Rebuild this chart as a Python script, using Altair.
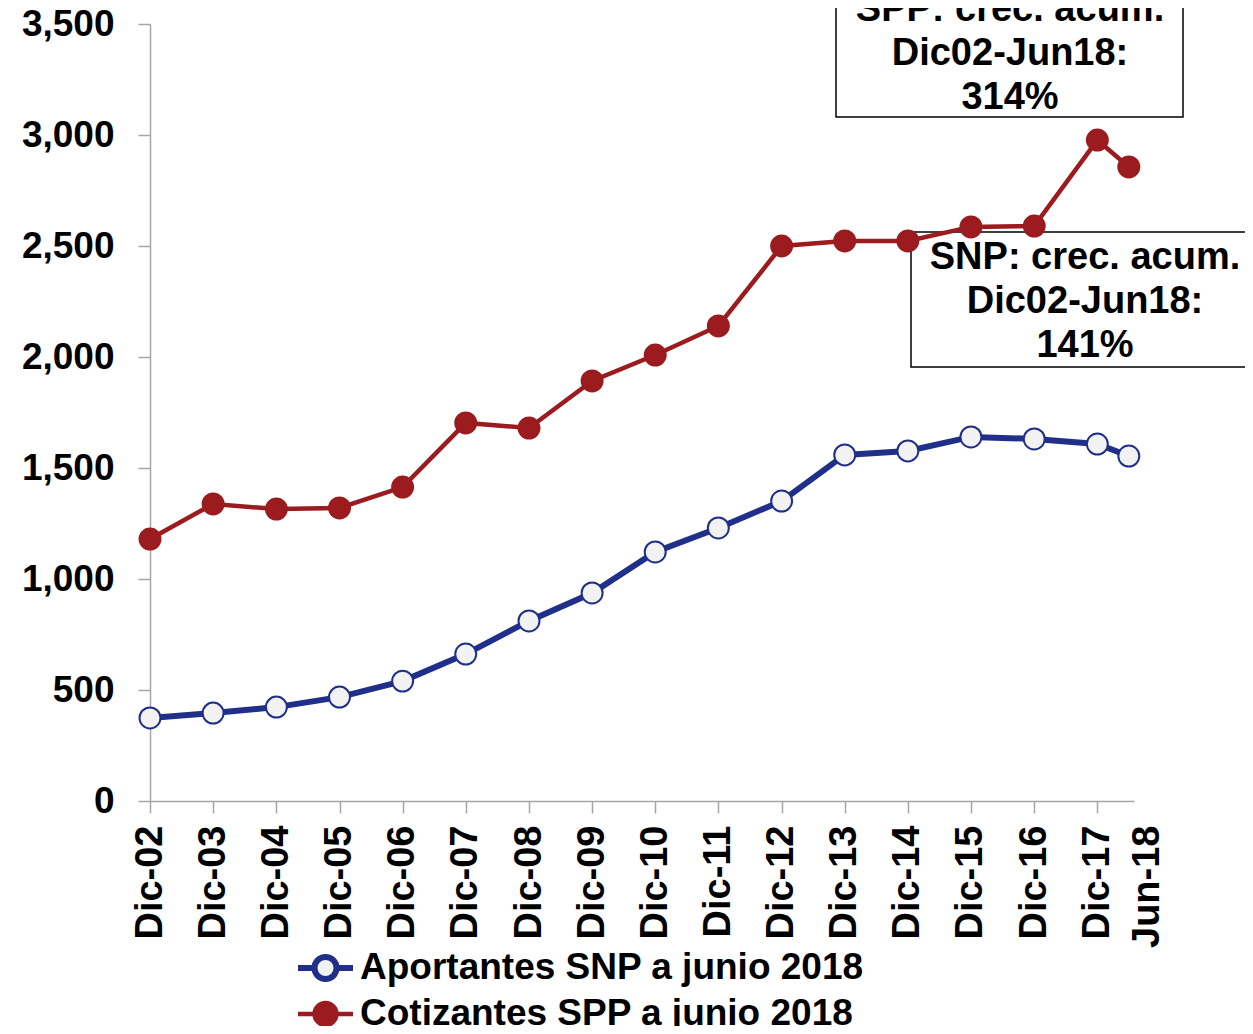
import altair as alt
import pandas as pd

# ---- data ----
fechas = ["2002-12-01", "2003-12-01", "2004-12-01", "2005-12-01", "2006-12-01",
          "2007-12-01", "2008-12-01", "2009-12-01", "2010-12-01", "2011-12-01",
          "2012-12-01", "2013-12-01", "2014-12-01", "2015-12-01", "2016-12-01",
          "2017-12-01", "2018-06-01"]
etiquetas = ["Dic-02", "Dic-03", "Dic-04", "Dic-05", "Dic-06", "Dic-07", "Dic-08",
             "Dic-09", "Dic-10", "Dic-11", "Dic-12", "Dic-13", "Dic-14", "Dic-15",
             "Dic-16", "Dic-17", "Jun-18"]
aportantes_snp = [374, 396, 423, 468, 540, 662, 811, 937, 1122, 1230, 1351,
                  1559, 1577, 1640, 1631, 1608, 1554]
cotizantes_spp = [1180, 1338, 1315, 1320, 1414, 1703, 1680, 1892, 2009, 2140, 2500,
                  2523, 2523, 2586, 2590, 2977, 2856]
series = ["Aportantes SNP a junio 2018", "Cotizantes SPP a junio 2018"]
y_ticks = [0, 500, 1000, 1500, 2000, 2500, 3000, 3500]
nota_spp = ["SPP: crec. acum.", "Dic02-Jun18:", "314%"]
nota_snp = ["SNP: crec. acum.", "Dic02-Jun18:", "141%"]

FONT = "Liberation Sans"
BLUE = "#1F2F8A"
RED = "#9B1B1F"
GRAY = "#A6A6A6"

df = pd.DataFrame({
    "fecha": fechas * 2,
    "valor": aportantes_snp + cotizantes_spp,
    "serie": [series[0]] * len(fechas) + [series[1]] * len(fechas),
})


def dt(s):
    y, m, d = s.split("-")
    return alt.DateTime(year=int(y), month=int(m), date=int(d), utc=True)


stamps = [int(pd.Timestamp(f, tz="UTC").value // 10**6) for f in fechas]
label_expr = "[" + ",".join(f"'{e}'" for e in etiquetas) + "][indexof([" + \
    ",".join(str(s) for s in stamps) + "], datum.value)]"
is_last = f"datum.value == {stamps[-1]}"

x_enc = alt.X(
    "fecha:T",
    scale=alt.Scale(type="utc", domain=[dt("2002-12-01"), dt("2018-07-01")]),
    axis=alt.Axis(
        values=[dt(f) for f in fechas], labelExpr=label_expr, labelAngle=270,
        labelFont=FONT, labelFontSize=38, labelFontWeight="bold", labelColor="black",
        labelBaseline={"condition": {"test": is_last, "value": "top"}, "value": "middle"},
        tickOpacity={"condition": {"test": is_last, "value": 0}, "value": 1},
        tickSize=12, labelPadding=12, grid=False, title=None, labelOverlap=False,
        labelFlush=False, labelBound=False, domainColor=GRAY, tickColor=GRAY,
        domainWidth=1.5, tickWidth=1.5,
    ),
)
y_enc = alt.Y(
    "valor:Q",
    scale=alt.Scale(domain=[0, 3500], nice=False),
    axis=alt.Axis(
        values=y_ticks, format=",.0f", labelFont=FONT, labelFontSize=37,
        labelFontWeight="bold", labelColor="black", tickSize=12, labelPadding=24,
        grid=False, title=None, domainColor=GRAY, tickColor=GRAY,
        domainWidth=1.5, tickWidth=1.5,
    ),
)

stroke_scale = alt.Scale(domain=series, range=[BLUE, RED])
fill_scale = alt.Scale(domain=series, range=["#F2F2F2", RED])
legend = alt.Legend(title=None, orient="none", legendX=145, legendY=921)

base = alt.Chart(df).encode(x=x_enc, y=y_enc)

lines = base.mark_line().encode(
    stroke=alt.Stroke("serie:N", scale=stroke_scale, legend=legend),
    strokeWidth=alt.StrokeWidth("serie:N", scale=alt.Scale(domain=series, range=[6, 4.5]),
                                legend=None),
)
points = base.mark_point(shape="circle", size=440, strokeWidth=2, opacity=1).encode(
    stroke=alt.Stroke("serie:N", scale=stroke_scale, legend=legend),
    fill=alt.Fill("serie:N", scale=fill_scale, legend=legend),
)

box_df = pd.DataFrame({"k": [0]})
box1 = alt.Chart(box_df).mark_rect(fill="white", stroke="black", strokeWidth=1.5).encode(
    x=alt.value(686), x2=alt.value(1033), y=alt.value(-40), y2=alt.value(93))
box2 = alt.Chart(box_df).mark_rect(fill="white", stroke="black", strokeWidth=1.5).encode(
    x=alt.value(761), x2=alt.value(1110), y=alt.value(208), y2=alt.value(343))
txt1 = alt.Chart(box_df).mark_text(
    text=nota_spp, font=FONT, fontSize=38, fontWeight="bold", lineHeight=44,
    align="center", baseline="middle", color="black").encode(
    x=alt.value(860), y=alt.value(-14))
txt2 = alt.Chart(box_df).mark_text(
    text=nota_snp, font=FONT, fontSize=38, fontWeight="bold", lineHeight=44,
    align="center", baseline="middle", color="black").encode(
    x=alt.value(935), y=alt.value(234))

chart = alt.layer(box1, box2, lines, points, txt1, txt2).properties(
    width=984, height=777,
    autosize=alt.AutoSizeParams(type="none"),
    padding={"left": 142, "top": 16, "right": 111, "bottom": 225},
).configure_view(stroke=None).configure_legend(
    symbolType="M-1,0L-0.4,0M0.4,0L1,0M0.4,0A0.4,0.4,0,1,1,-0.4,0A0.4,0.4,0,1,1,0.4,0Z",
    symbolSize=3025, symbolStrokeWidth=3.5, clipHeight=46, rowPadding=0, padding=0,
    labelFont=FONT, labelFontSize=37, labelFontWeight="bold", labelColor="black",
    labelOffset=4, labelLimit=0,
)

chart.save("out.html", embed_options={"renderer": "svg", "actions": False})
